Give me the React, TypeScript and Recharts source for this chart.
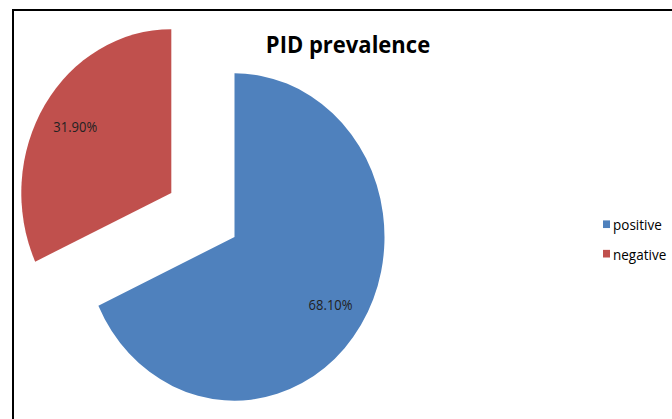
import { PieChart, Pie, Cell } from "recharts";

const categories = ["positive", "negative"];
const shares = [68.1, 31.9];
const sliceColors = ["#4F81BD", "#C0504D"];

const WIDTH = 672;
const HEIGHT = 419;
// the reference pie is slightly stretched vertically
const STRETCH = 1.0911;
const INNER_H = Math.round(HEIGHT / STRETCH);

const CX = 234.5;
const CY = 217.2;
const RADIUS = 150;
const EXPLODE = 75;
const RAD = Math.PI / 180;

const data = categories.map((name, i) => ({ name, value: shares[i] }));
const total = shares.reduce((a, b) => a + b, 0);

// the negative slice is pulled out along its mid angle
const before = shares.slice(0, 1).reduce((a, b) => a + b, 0);
const midAngle = 90 - (360 * (before + shares[1] / 2)) / total;
const explodeX = EXPLODE * Math.cos(midAngle * RAD);
const explodeY = -EXPLODE * Math.sin(midAngle * RAD);

const makeLabel = (shown: number) => (props: any) => {
  if (props.index !== shown) return null;
  const r = props.outerRadius * 0.76;
  const x = props.cx + r * Math.cos(-props.midAngle * RAD);
  const y = props.cy + r * Math.sin(-props.midAngle * RAD);
  return (
    <text
      x={x}
      y={y}
      textAnchor="middle"
      dominantBaseline="central"
      fill="#222"
      fontSize={13}
      fontFamily="Open Sans"
    >
      {`${Number(props.value).toFixed(2)}%`}
    </text>
  );
};

export default function App() {
  return (
    <div
      style={{
        position: "fixed",
        left: 0,
        top: 0,
        width: WIDTH,
        height: HEIGHT,
        background: "#fff",
        overflow: "hidden",
        fontFamily: "Open Sans",
      }}
    >
      <div
        style={{
          position: "absolute",
          left: 12,
          top: 9,
          width: 700,
          height: 500,
          borderLeft: "2px solid #000",
          borderTop: "2px solid #000",
        }}
      />
      <div
        style={{
          position: "absolute",
          left: 0,
          top: 0,
          width: WIDTH,
          height: INNER_H,
          transform: `scaleY(${STRETCH})`,
          transformOrigin: "0 0",
        }}
      >
        <PieChart width={WIDTH} height={INNER_H} margin={{ top: 0, right: 0, bottom: 0, left: 0 }}>
          <Pie
            data={data}
            dataKey="value"
            nameKey="name"
            cx={CX}
            cy={CY}
            outerRadius={RADIUS}
            startAngle={90}
            endAngle={-270}
            stroke="none"
            labelLine={false}
            label={makeLabel(0)}
            isAnimationActive={false}
          >
            {data.map((d, i) => (
              <Cell key={d.name} fill={i === 0 ? sliceColors[i] : "none"} />
            ))}
          </Pie>
          <Pie
            data={data}
            dataKey="value"
            nameKey="name"
            cx={CX + explodeX}
            cy={CY + explodeY}
            outerRadius={RADIUS}
            startAngle={90}
            endAngle={-270}
            stroke="none"
            labelLine={false}
            label={makeLabel(1)}
            isAnimationActive={false}
          >
            {data.map((d, i) => (
              <Cell key={d.name} fill={i === 1 ? sliceColors[i] : "none"} />
            ))}
          </Pie>
        </PieChart>
        <div
          style={{
            position: "absolute",
            left: 0,
            top: 26,
            width: 696,
            textAlign: "center",
            fontSize: 22,
            fontWeight: 700,
            color: "#000",
            lineHeight: "28px",
          }}
        >
          PID prevalence
        </div>
        <div style={{ position: "absolute", left: 603, top: 192 }}>
          {categories.map((name, i) => (
            <div
              key={name}
              style={{
                display: "flex",
                alignItems: "center",
                height: 27,
                fontSize: 13.5,
                color: "#000",
              }}
            >
              <span
                style={{
                  width: 7,
                  height: 7,
                  background: sliceColors[i],
                  marginRight: 3,
                  display: "inline-block",
                }}
              />
              {name}
            </div>
          ))}
        </div>
      </div>
    </div>
  );
}
